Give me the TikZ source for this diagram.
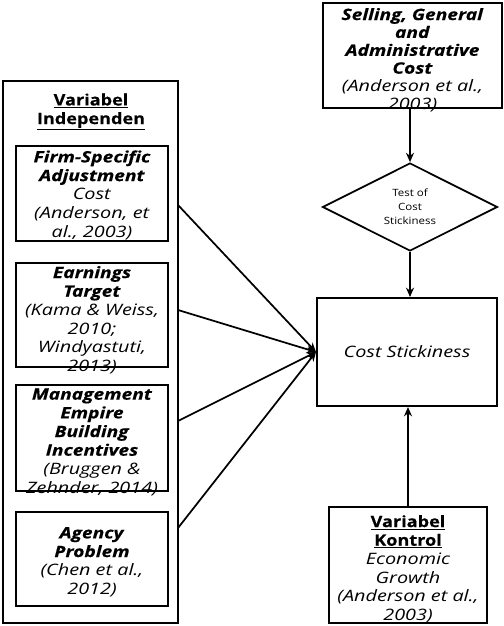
\documentclass[tikz,border=0pt]{standalone}
\usepackage{fontspec}
\setmainfont{Open Sans}[
  FakeStretch=1.15,
  BoldFeatures={FakeBold=0.4},
  ItalicFeatures={FakeStretch=1.26},
  BoldItalicFeatures={FakeStretch=1.22,FakeBold=0.4}]
\usetikzlibrary{shapes.geometric,arrows.meta}
\begin{document}
\begin{tikzpicture}[x=0.75pt,y=-0.75pt,
  frame/.style={draw,line width=1.5pt,inner sep=0pt},
  boxtext/.style={align=center,inner sep=0pt,font=\fontsize{11.8}{14}\selectfont},
  conn/.style={line width=1.3pt,-{Stealth[length=7pt,width=6pt]}}]
\useasboundingbox (0,0) rectangle (504,626);

% left group: independent variables
\node[frame,minimum width=175*0.75pt,minimum height=542*0.75pt] (outer) at (90.5,352) {};
\node[boxtext] (hdr) at (91,112) {\textbf{\underline{Variabel}}\\\textbf{\underline{Independen}}};

\node[frame,minimum width=152*0.75pt,minimum height=95*0.75pt] (b1) at (92,193.5) {};
\node[boxtext] (t1) at (92,195) {\textbf{\textit{Firm-Specific}}\\\textbf{\textit{Adjustment}}\\\textit{Cost}\\\textit{(Anderson, et}\\\textit{al., 2003)}};

\node[frame,minimum width=152*0.75pt,minimum height=104*0.75pt] (b2) at (92,315) {};
\node[boxtext] (t2) at (92,320) {\textbf{\textit{Earnings}}\\\textbf{\textit{Target}}\\\textit{(Kama \& Weiss,}\\\textit{2010;}\\\textit{Windyastuti,}\\\textit{2013)}};

\node[frame,minimum width=152*0.75pt,minimum height=106*0.75pt] (b3) at (92,438) {};
\node[boxtext] (t3) at (92,442) {\textbf{\textit{Management}}\\\textbf{\textit{Empire}}\\\textbf{\textit{Building}}\\\textbf{\textit{Incentives}}\\\textit{(Bruggen \&}\\\textit{Zehnder, 2014)}};

\node[frame,minimum width=152*0.75pt,minimum height=94*0.75pt] (b4) at (92,559) {};
\node[boxtext] (t4) at (92,562) {\textbf{\textit{Agency}}\\\textbf{\textit{Problem}}\\\textit{(Chen et al.,}\\\textit{2012)}};

% right column
\node[frame,minimum width=179*0.75pt,minimum height=105*0.75pt] (sga) at (412.5,55.5) {};
\node[boxtext,font=\fontsize{11.8}{13.4}\selectfont] (tsga) at (412.5,60) {\textbf{\textit{Selling, General}}\\\textbf{\textit{and}}\\\textbf{\textit{Administrative}}\\\textbf{\textit{Cost}}\\\textit{(Anderson et al.,}\\\textit{2003)}};

\node[diamond,draw,line width=1.3pt,inner sep=0pt,minimum width=175*0.75pt,minimum height=64*0.75pt,
      align=center,font=\fontsize{7.5}{10.5}\selectfont] (test) at (410,207) {Test of\\Cost\\Stickiness};

\node[frame,minimum width=180*0.75pt,minimum height=108*0.75pt,
      font=\fontsize{11.8}{15}\selectfont] (cs) at (407,352) {\textit{Cost Stickiness}};

\node[frame,minimum width=158*0.75pt,minimum height=116*0.75pt] (kon) at (408,565) {};
\node[boxtext] (tkon) at (408,569) {\textbf{\underline{Variabel}}\\\textbf{\underline{Kontrol}}\\\textit{Economic}\\\textit{Growth}\\\textit{(Anderson et al.,}\\\textit{2003)}};

% connectors
\coordinate (s1) at (178,205);
\coordinate (s2) at (178,310);
\coordinate (s3) at (178,421);
\coordinate (s4) at (178,528);
\foreach \s in {s1,s2,s3,s4} \draw[conn] (\s) -- (cs.west);

\draw[conn] (sga.south -| test.north) -- (test.north);
\draw[conn] (test.south) -- (test.south |- cs.north);
\draw[conn] (kon.north) -- (kon.north |- cs.south);
\end{tikzpicture}
\end{document}
